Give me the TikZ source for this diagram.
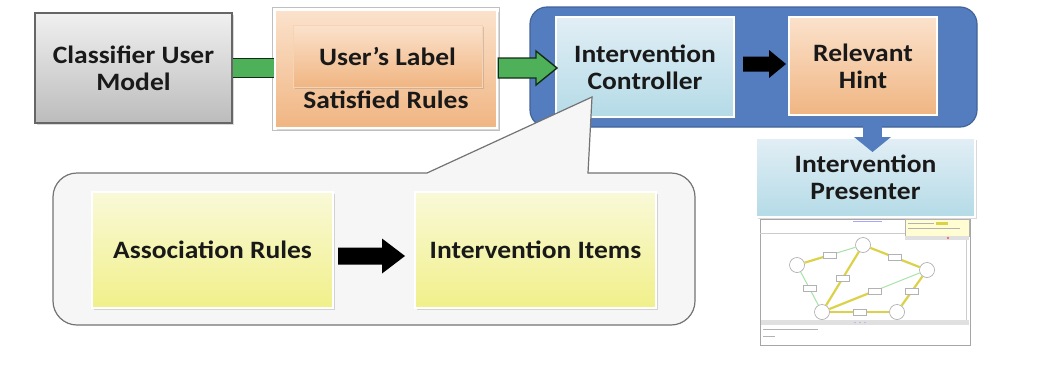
\documentclass[tikz,border=0pt]{standalone}
\usepackage{fontspec}
\setmainfont{Carlito}[FakeStretch=1.1]
\usetikzlibrary{calc, shadows}

\definecolor{grayA}{HTML}{F0F0F0}
\definecolor{grayB}{HTML}{BCBCBC}
\definecolor{orangeA}{HTML}{FBE2CC}
\definecolor{orangeB}{HTML}{F0B582}
\definecolor{blueA}{HTML}{E2EEF5}
\definecolor{blueB}{HTML}{B4DBE7}
\definecolor{yellowA}{HTML}{F9F9D8}
\definecolor{yellowB}{HTML}{F1F08A}
\definecolor{groupblue}{HTML}{537DBE}
\definecolor{arrowgreen}{HTML}{4EB15A}
\definecolor{calloutgray}{HTML}{F6F6F6}
\definecolor{edgeyellow}{HTML}{DCD24A}
\definecolor{edgegreen}{HTML}{A6E3A6}

\tikzset{
    boxtext/.style={align=center, inner sep=0pt, text=black!90,
        font=\bfseries\fontsize{12.5}{13.5}\selectfont},
    box/.style={boxtext, rectangle,
        drop shadow={shadow xshift=0.8pt, shadow yshift=-0.8pt, opacity=0.3}},
    graybox/.style={box, draw=black!60, line width=1pt, top color=grayA, bottom color=grayB},
    orangebox/.style={box, draw=white, line width=1pt, top color=orangeA, bottom color=orangeB},
    bluebox/.style={box, draw=white, line width=1pt, top color=blueA, bottom color=blueB},
    yellowbox/.style={box, draw=white, line width=1pt, top color=yellowA, bottom color=yellowB},
    greenbar/.style={fill=arrowgreen, draw=black!75!arrowgreen, line width=0.7pt, line join=miter},
    blackbar/.style={fill=black},
    callout/.style={fill=calloutgray, draw=black!55, line width=0.6pt},
    % little graph inside the screenshot
    gnode/.style={circle, draw=black!35, fill=white, minimum size=7.5pt, inner sep=0pt, line width=0.3pt},
    glabel/.style={rectangle, draw=black!30, fill=white, minimum width=6.5pt, minimum height=3pt, inner sep=0pt, line width=0.3pt},
    strong/.style={draw=edgeyellow, line width=1.1pt},
    weak/.style={draw=edgegreen, line width=0.5pt},
}

\begin{document}
\begin{tikzpicture}[x=0.5pt, y=-0.5pt]
    \useasboundingbox (0,0) rectangle (1049,370);

    % controller group
    \node[draw=groupblue!80!black, fill=groupblue, rounded corners=8.5pt, line width=0.6pt,
          minimum width=223.5pt, minimum height=60pt, inner sep=0pt] (grp) at (753.5,67) {};

    % top row
    \node[graybox,   minimum width=98.5pt, minimum height=55pt] (cum) at (133.5,68) {Classifier User\\Model};
    \node[orangebox, minimum width=111pt,  minimum height=59pt, line width=1.2pt] (sat) at (386,69) {};
    \draw[black!25, line width=0.4pt] (sat.north west) ++(-1.4,-1.4) rectangle ($(sat.south east)+(1.4,1.4)$);
    \node[orangebox, minimum width=94.5pt, minimum height=31pt, draw=orangeB!60!white, line width=0.4pt] (lbl) at (387.5,56) {User’s Label};
    \node[boxtext] (rules) at (386,100) {Satisfied Rules};
    \node[bluebox,   minimum width=89pt, minimum height=50pt] (ctrl) at (645,67) {Intervention\\Controller};
    \node[orangebox, minimum width=74pt, minimum height=49pt] (hint) at (863,66) {Relevant\\Hint};

    % connectors of the top row
    \fill[arrowgreen] ($(cum.east)+(0,-9.5)$) rectangle ($(sat.west |- cum.east)+(0,9.5)$);
    \draw[black!75!arrowgreen, line width=0.7pt]
        ($(cum.east)+(0,-9.5)$) -- ($(sat.west |- cum.east)+(0,-9.5)$)
        ($(cum.east)+(0,9.5)$)  -- ($(sat.west |- cum.east)+(0,9.5)$);

    \coordinate (gtip) at ($(ctrl.west)+(2,1)$);
    \draw[greenbar] ($(sat.east |- gtip)+(0,-10)$) -- ($(gtip)+(-21,-10)$) -- ($(gtip)+(-21,-17)$)
        -- (gtip) -- ($(gtip)+(-21,17)$) -- ($(gtip)+(-21,10)$) -- ($(sat.east |- gtip)+(0,10)$) -- cycle;

    \coordinate (btip) at ($(hint.west)+(-2,-2)$);
    \fill[blackbar] ($(ctrl.east |- btip)+(8,-7.5)$) -- ($(btip)+(-17,-7.5)$) -- ($(btip)+(-17,-14)$)
        -- (btip) -- ($(btip)+(-17,14)$) -- ($(btip)+(-17,7.5)$) -- ($(ctrl.east |- btip)+(8,7.5)$) -- cycle;

    % presenter and its screenshot
    \coordinate (tab) at (872.5,125);
    \node[bluebox, minimum width=109.5pt, minimum height=39.5pt] (pres) at (865.5,177.5) {Intervention\\Presenter};
    \coordinate (tabend) at (tab |- pres.north);
    \fill[groupblue] ($(tab)+(-9.5,0)$) rectangle ($(tabend)+(9.5,0)$);
    \fill[groupblue] ($(tabend)+(-18.5,0)$) -- ($(tabend)+(18.5,0)$) -- ($(tabend)+(0,15)$) -- cycle;

    \draw[black!35, fill=white, line width=0.4pt] (760,219) rectangle (970,345);
    \draw[black!20, line width=0.4pt] (760,233) -- (905,233);
    \draw[blue!35, line width=0.4pt] (853,221) -- (882,221);
    \draw[black!30, fill=yellow!18, line width=0.3pt] (905,219) rectangle (969,236);
    \draw[black!30, line width=0.4pt] (908,223) -- (934,223) (908,228) -- (960,228);
    \fill[edgeyellow] (936,221.5) rectangle (948,224.5);
    \fill[black!12] (905,236) rectangle (969,240);
    \fill[red!70] (948,238) circle (1.2);
    \draw[black!20, line width=0.4pt] (966,240) -- (966,320);
    \fill[black!12] (761,320) rectangle (969,325);
    \fill[blue!40] (855,322.5) circle (0.7) (860,322.5) circle (0.7) (865,322.5) circle (0.7);
    \draw[black!30, line width=0.4pt] (763,329) -- (818,329) (763,336) -- (775,336);

    \node[gnode] (ga) at (797,265) {};
    \node[gnode] (gb) at (863,245) {};
    \node[gnode] (gc) at (927,270) {};
    \node[gnode] (gd) at (822,312) {};
    \node[gnode] (ge) at (897,312) {};
    \draw[weak] (ga) -- node[glabel] {} (gd);
    \draw[weak] ($(ga)!0.5!(gb)$) -- (gb);
    \draw[weak] ($(gd)!0.5!(gc)$) -- (gc);
    \draw[strong] (ga) -- ($(ga)!0.5!(gb)$) node[glabel] {};
    \draw[strong] (gd) -- ($(gd)!0.5!(gc)$) node[glabel] {};
    \draw[strong] (gb) -- node[glabel] {} (gd);
    \draw[strong] (gb) -- node[glabel] {} (gc);
    \draw[strong] (ge) -- node[glabel] {} (gc);
    \draw[strong] (gd) -- node[glabel] {} (ge);

    % detail callout
    \coordinate (ctip) at ($(ctrl.center)+(-53,30)$);
    \draw[callout] (300,173) -- (427,173) -- (ctip) -- (588,173) -- (640,173)
        [rounded corners=12pt] -- (695,173) -- (695,325) -- (53,325) -- (53,173) -- cycle;

    \node[yellowbox, minimum width=120.5pt, minimum height=58pt] (assoc) at (212.5,250) {Association Rules};
    \node[yellowbox, minimum width=120.5pt, minimum height=58pt] (items) at (535.5,250) {Intervention Items};

    \coordinate (atip) at ($(items.west)+(-9,6)$);
    \fill[blackbar] ($(assoc.east |- atip)+(4,-8.5)$) -- ($(atip)+(-23,-8.5)$) -- ($(atip)+(-23,-17.5)$)
        -- (atip) -- ($(atip)+(-23,17.5)$) -- ($(atip)+(-23,8.5)$) -- ($(assoc.east |- atip)+(4,8.5)$) -- cycle;
\end{tikzpicture}
\end{document}
